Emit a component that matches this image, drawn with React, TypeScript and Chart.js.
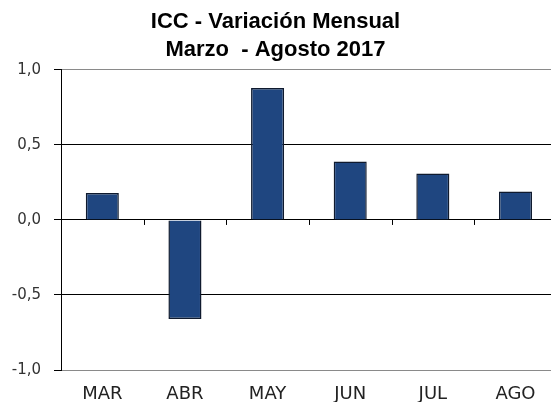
import React, { useEffect, useRef } from "react";
import { Chart, registerables } from "chart.js";

Chart.register(...registerables);

const TITLE_LINES = ["ICC - Variación Mensual", "Marzo  - Agosto 2017"];
const CATEGORIES = ["MAR", "ABR", "MAY", "JUN", "JUL", "AGO"];
const VALUES = [0.18, -0.66, 0.88, 0.39, 0.31, 0.19];
const Y_MIN = -1;
const Y_MAX = 1;
const Y_STEP = 0.5;

const zeroTicks = {
  id: "zeroTicks",
  afterDatasetsDraw(chart: any) {
    const x = chart.scales.x;
    const y = chart.scales.y;
    const ctx = chart.ctx;
    const y0 = y.getPixelForValue(0);
    ctx.save();
    ctx.strokeStyle = "#000";
    ctx.lineWidth = 1;
    for (let i = 0; i < CATEGORIES.length - 1; i++) {
      const px = Math.round(x.getPixelForValue(i + 0.5)) + 0.5;
      ctx.beginPath();
      ctx.moveTo(px, y0);
      ctx.lineTo(px, y0 + 5);
      ctx.stroke();
    }
    ctx.restore();
  },
};

export default function App() {
  const ref = useRef<HTMLCanvasElement | null>(null);
  useEffect(() => {
    if (!ref.current) return;
    const chart = new Chart(ref.current, {
      type: "bar",
      data: {
        datasets: [
          {
            data: VALUES.map((v, i) => ({ x: i, y: v })),
            backgroundColor: "#1f4680",
            borderColor: "#0f1a2e",
            borderWidth: 1.5,
            barPercentage: 0.4,
            categoryPercentage: 1,
          },
        ],
      },
      options: {
        responsive: false,
        animation: false,
        devicePixelRatio: 1,
        layout: { padding: { left: 0, right: 0, top: 0, bottom: 0 } },
        plugins: {
          legend: { display: false },
          tooltip: { enabled: false },
          title: {
            display: true,
            text: TITLE_LINES,
            color: "#000",
            font: { family: "'Liberation Sans', Arial, sans-serif", size: 22, weight: "bold", lineHeight: 1.27 },
            padding: { top: 8, bottom: 6 },
          },
        },
        scales: {
          x: {
            type: "linear",
            offset: false,
            min: -0.5,
            max: 5.43,
            afterFit: (s: any) => {
              s.height = 34;
            },
            grid: { display: false, drawTicks: false },
            border: { display: false },
            ticks: {
              stepSize: 1,
              includeBounds: false,
              autoSkip: false,
              maxRotation: 0,
              padding: 14,
              color: "#222",
              font: { family: "'DejaVu Sans', sans-serif", size: 18 },
              callback: (v: any) => {
                const i = Number(v);
                return Number.isInteger(i) && CATEGORIES[i] ? CATEGORIES[i] : "";
              },
            },
          },
          y: {
            min: Y_MIN,
            max: Y_MAX,
            afterFit: (s: any) => {
              s.width = 61;
            },
            border: { display: true, color: "#000", width: 1 },
            grid: {
              color: (c: any) =>
                c.tick && (c.tick.value === Y_MIN || c.tick.value === Y_MAX) ? "#8a8a8a" : "#000",
              tickColor: "#000",
              tickLength: 7,
              lineWidth: 1,
            },
            ticks: {
              stepSize: Y_STEP,
              padding: 13,
              color: "#333",
              font: { family: "'DejaVu Sans', sans-serif", size: 15 },
              callback: (v: any) => Number(v).toFixed(1).replace(".", ","),
            },
          },
        },
      },
      plugins: [zeroTicks],
    });
    return () => chart.destroy();
  }, []);
  return (
    <div style={{ position: "fixed", left: 0, top: 0, width: 551, height: 402, overflow: "hidden", background: "#fff" }}>
      <canvas ref={ref} width={551} height={404} style={{ display: "block", width: 551, height: 404 }} />
    </div>
  );
}
